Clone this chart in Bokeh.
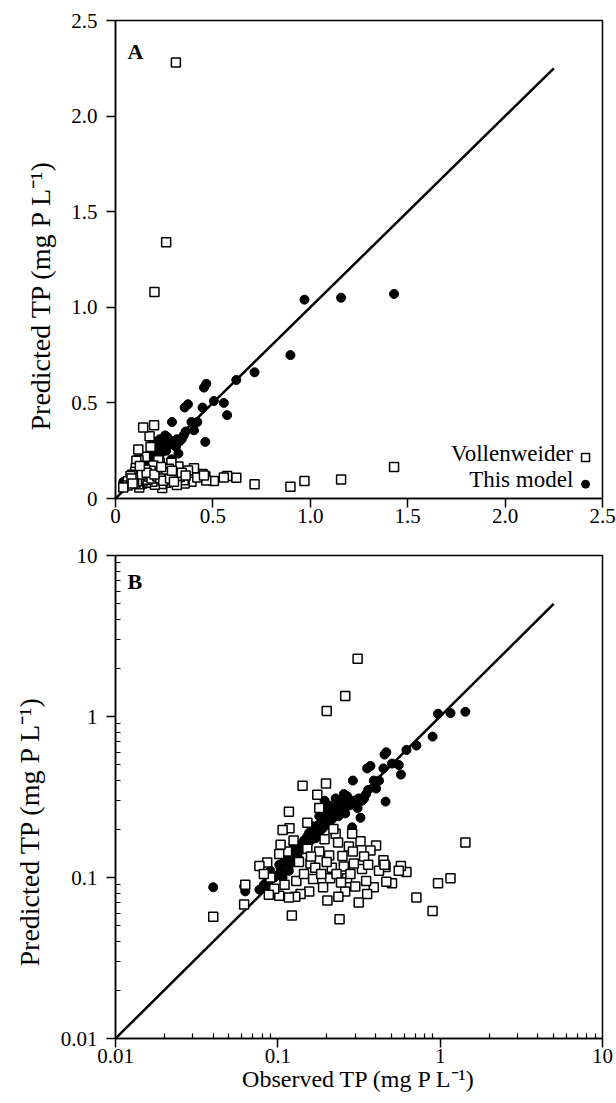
from bokeh.plotting import figure
from bokeh.models import Range1d, FixedTicker, Label, Title
from bokeh.layouts import column
from bokeh.embed import file_html
from bokeh.resources import INLINE

# ---- data: observed TP and predictions (mg P L-1) ----
observed = [1.43, 1.158, 0.97, 0.898, 0.714, 0.62, 0.573, 0.556, 0.505, 0.461,
            0.447, 0.466, 0.403, 0.372, 0.39, 0.355, 0.35, 0.33, 0.323, 0.315,
            0.31, 0.294, 0.287, 0.274, 0.26, 0.26, 0.255, 0.25, 0.24, 0.236,
            0.227, 0.22, 0.267, 0.21, 0.207, 0.202, 0.2, 0.198, 0.194, 0.19,
            0.18, 0.18, 0.175, 0.159, 0.156, 0.152, 0.152, 0.142, 0.138, 0.128,
            0.122, 0.118, 0.117, 0.117, 0.114, 0.107, 0.104, 0.102, 0.102, 0.086,
            0.077, 0.063, 0.062, 0.04, 0.13, 0.145, 0.165, 0.17, 0.185, 0.215,
            0.23, 0.245, 0.28, 0.3, 0.11, 0.095, 0.135, 0.16, 0.2, 0.34,
            0.42, 0.09, 0.125, 0.235, 0.29, 0.36, 0.454, 0.082, 0.088]
vollenweider = [0.165, 0.099, 0.092, 0.062, 0.075, 0.108, 0.118, 0.11, 0.092, 0.116,
                0.128, 0.094, 0.158, 0.147, 0.087, 0.079, 0.095, 0.113, 0.168, 0.07,
                2.28, 0.122, 0.187, 0.156, 1.34, 0.082, 0.117, 0.136, 0.055, 0.076,
                0.187, 0.2, 0.099, 0.099, 0.137, 0.072, 1.08, 0.383, 0.173, 0.087,
                0.27, 0.145, 0.326, 0.122, 0.082, 0.219, 0.151, 0.371, 0.079, 0.076,
                0.058, 0.202, 0.256, 0.075, 0.145, 0.197, 0.16, 0.14, 0.077, 0.124,
                0.118, 0.09, 0.068, 0.057, 0.095, 0.105, 0.098, 0.115, 0.105, 0.115,
                0.105, 0.093, 0.105, 0.088, 0.09, 0.085, 0.125, 0.135, 0.125, 0.135,
                0.11, 0.1, 0.17, 0.165, 0.145, 0.12, 0.12, 0.105, 0.078]
this_model = [1.07, 1.05, 1.04, 0.75, 0.66, 0.62, 0.436, 0.50, 0.51, 0.296,
              0.476, 0.60, 0.357, 0.493, 0.40, 0.476, 0.33, 0.30, 0.235, 0.31,
              0.27, 0.30, 0.205, 0.28, 0.30, 0.25, 0.33, 0.27, 0.29, 0.24,
              0.31, 0.27, 0.32, 0.25, 0.28, 0.22, 0.26, 0.23, 0.30, 0.21,
              0.24, 0.19, 0.21, 0.17, 0.19, 0.16, 0.18, 0.15, 0.16, 0.14,
              0.13, 0.12, 0.14, 0.11, 0.125, 0.10, 0.115, 0.105, 0.12, 0.095,
              0.084, 0.082, 0.088, 0.087, 0.15, 0.17, 0.20, 0.175, 0.22, 0.23,
              0.26, 0.30, 0.29, 0.28, 0.13, 0.10, 0.13, 0.21, 0.24, 0.31,
              0.40, 0.11, 0.16, 0.28, 0.40, 0.35, 0.58, 0.09, 0.085]

line_a = [0.0, 2.25]          # 1:1 line, panel A
line_b = [0.01, 5.0]          # 1:1 line, panel B
ticks_a = [0, 0.5, 1.0, 1.5, 2.0, 2.5]
tick_labels_a = ["0", "0.5", "1.0", "1.5", "2.0", "2.5"]
ticks_b = [0.01, 0.1, 1, 10]
tick_labels_b = ["0.01", "0.1", "1", "10"]
minor_b = [m * 10.0 ** e for e in (-2, -1, 0) for m in range(2, 10)]

FONT = "Liberation Serif"
YLAB = "Predicted TP (mg P L\u207b\u00b9)"
XLAB = "Observed TP (mg P L\u207b\u00b9)"


def style(p, ticks, labels, minor, ylab_offset):
    p.outline_line_color = "black"
    p.outline_line_width = 1.5
    p.outline_line_alpha = 1.0
    p.xgrid.visible = False
    p.ygrid.visible = False
    for ax in (p.xaxis[0], p.yaxis[0]):
        ax.ticker = FixedTicker(ticks=ticks, minor_ticks=minor)
        ax.major_label_overrides = {t: l for t, l in zip(ticks, labels)}
        ax.axis_line_color = "black"
        ax.axis_line_width = 1.5
        ax.major_tick_line_color = "black"
        ax.major_tick_line_width = 1.5
        ax.major_tick_out = 9
        ax.major_tick_in = 0
        ax.minor_tick_line_color = "black"
        ax.minor_tick_line_width = 1.2
        ax.minor_tick_in = 5 if minor else 0
        ax.minor_tick_out = 0
        ax.major_label_text_font = FONT
        ax.major_label_text_font_size = "21px"
        ax.major_label_text_color = "black"
        ax.axis_label_text_font = FONT
        ax.axis_label_text_font_size = "24px"
        ax.axis_label_text_font_style = "normal"
        ax.axis_label_text_color = "black"
    p.xaxis[0].major_label_standoff = 1
    p.yaxis[0].major_label_standoff = 9
    p.add_layout(Title(text=YLAB, align="left", vertical_align="middle",
                       offset=ylab_offset, standoff=24,
                       text_font=FONT, text_font_size="28px",
                       text_font_style="normal", text_color="black"), "left")


# ---------------- Panel A (linear) ----------------
pa = figure(width=616, height=538, output_backend="svg", toolbar_location=None,
            x_range=Range1d(0, 2.5), y_range=Range1d(0, 2.5),
            min_border_left=114, min_border_right=14, min_border_top=20,
            min_border_bottom=40, background_fill_color="white",
            border_fill_color="white")
style(pa, ticks_a, tick_labels_a, [], 68)
pa.line(line_a, line_a, line_color="black", line_width=2.5)
pa.scatter(observed, this_model, marker="circle", size=9, color="black")
pa.scatter(observed, vollenweider, marker="square", size=9, fill_color="white",
           line_color="black", line_width=1.5)
pa.add_layout(Label(x=0.061, y=2.34, text="A", text_font=FONT, text_font_size="22px",
                    text_font_style="bold", text_color="black",
                    text_baseline="alphabetic"))
# legend (text with marker to the right)
pa.add_layout(Label(x=2.35, y=0.237, text="Vollenweider", text_font=FONT,
                    text_font_size="23px", text_align="right", text_color="black",
                    text_baseline="alphabetic"))
pa.add_layout(Label(x=2.35, y=0.097, text="This model", text_font=FONT,
                    text_font_size="23px", text_align="right", text_color="black",
                    text_baseline="alphabetic"))
pa.scatter([2.413], [0.214], marker="square", size=8, fill_color="white",
           line_color="black", line_width=1.5)
pa.scatter([2.413], [0.075], marker="circle", size=8, color="black")

# ---------------- Panel B (log-log) ----------------
pb = figure(width=616, height=565, output_backend="svg", toolbar_location=None,
            x_axis_type="log", y_axis_type="log",
            x_range=Range1d(0.01, 10), y_range=Range1d(0.01, 10),
            min_border_left=114, min_border_right=14, min_border_top=17,
            min_border_bottom=65, background_fill_color="white",
            border_fill_color="white")
style(pb, ticks_b, tick_labels_b, minor_b, 72)
pb.xaxis[0].axis_label = XLAB
pb.xaxis[0].axis_label_standoff = 0
pb.line(line_b, line_b, line_color="black", line_width=2.5)
pb.scatter(observed, this_model, marker="circle", size=9, color="black")
pb.scatter(observed, vollenweider, marker="square", size=9, fill_color="white",
           line_color="black", line_width=1.5)
pb.add_layout(Label(x=0.01185, y=6.9, text="B", text_font=FONT, text_font_size="22px",
                    text_font_style="bold", text_color="black",
                    text_baseline="alphabetic"))

layout = column(pa, pb, spacing=0)
open("out.html", "w").write(file_html(layout, INLINE))
